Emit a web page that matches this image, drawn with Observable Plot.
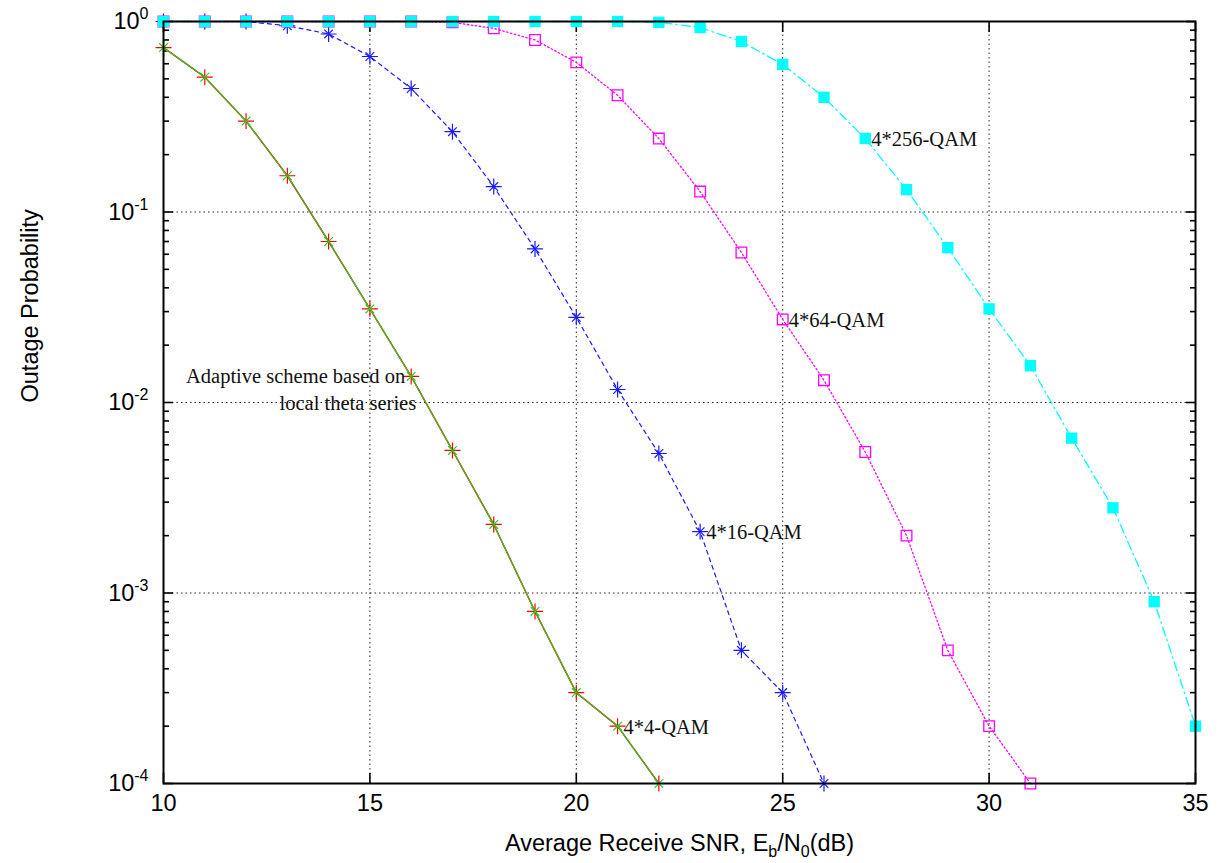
<!DOCTYPE html>
<html>
<head>
<meta charset="utf-8">
<script src="https://cdn.jsdelivr.net/npm/d3@7"></script>
<script src="https://cdn.jsdelivr.net/npm/@observablehq/plot@0.6"></script>
<style>
  html, body { margin: 0; padding: 0; background: #fff; }
  #chart svg { display: block; }
</style>
</head>
<body>
<div id="chart"></div>
<script>
// ---- data ----
const snr = [10, 11, 12, 13, 14, 15, 16, 17, 18, 19, 20, 21, 22, 23, 24, 25, 26, 27, 28, 29, 30, 31, 32, 33, 34, 35];
const qam4 = [0.73, 0.51, 0.30, 0.155, 0.07, 0.031, 0.0137, 0.0056, 0.00229, 0.0008, 0.0003, 0.0002, 0.0001];
const qam16 = [1, 1, 1, 0.95, 0.86, 0.655, 0.445, 0.264, 0.136, 0.064, 0.028, 0.0117, 0.0054, 0.0021, 0.0005, 0.0003, 0.0001];
const qam64 = [1, 1, 1, 1, 1, 1, 1, 0.99, 0.92, 0.80, 0.61, 0.41, 0.243, 0.128, 0.0613, 0.0273, 0.0131, 0.0055, 0.002, 0.0005, 0.0002, 0.0001];
const qam256 = [1, 1, 1, 1, 1, 1, 1, 1, 1, 1, 1, 1, 0.99, 0.93, 0.785, 0.595, 0.40, 0.243, 0.131, 0.065, 0.031, 0.0156, 0.0065, 0.0028, 0.0009, 0.0002];

const seriesNames = ["4*4-QAM", "4*16-QAM", "4*64-QAM", "4*256-QAM"];
const labelX = [21, 23, 25, 27];
const labelY = [0.0002, 0.0021, 0.0273, 0.243];
const noteLines = ["Adaptive scheme based on", "local theta series"];
const noteX = 16;
const noteY = 0.0137;

const xTicks = [10, 15, 20, 25, 30, 35];
const yTicks = [1e-4, 1e-3, 1e-2, 1e-1, 1];
const yMinorMult = [2, 3, 4, 5, 6, 7, 8, 9];
const yMinor = yTicks.slice(0, -1).flatMap(d => yMinorMult.map(m => m * d));

const xLabel = "Average Receive SNR, E_{b}/N_{0}(dB)";
const yLabel = "Outage Probability";

const toRows = vals => vals.map((v, i) => ({x: snr[i], y: v}));
const d4 = toRows(qam4), d16 = toRows(qam16), d64 = toRows(qam64), d256 = toRows(qam256);
const labels = seriesNames.map((t, i) => ({text: t, x: labelX[i], y: labelY[i]}));

const red = "#ff0000", green = "#22d022", blue = "#1a1aff", magenta = "#ff00ff", cyan = "#00ffff";
const serif = "'Liberation Serif', 'Times New Roman', serif";

const plot = Plot.plot({
  width: 1225,
  height: 863,
  marginLeft: 163,
  marginRight: 30,
  marginTop: 21,
  marginBottom: 80,
  style: {fontFamily: "'Liberation Sans', Arial, sans-serif", fontSize: "23.5px", background: "#fff", overflow: "visible"},
  x: {type: "linear", domain: [10, 35]},
  y: {type: "log", domain: [1e-4, 1]},
  marks: [
    Plot.gridX(xTicks, {stroke: "#000", strokeOpacity: 0.85, strokeDasharray: "1.5,3"}),
    Plot.gridY(yTicks, {stroke: "#000", strokeOpacity: 0.85, strokeDasharray: "1.5,3"}),
    // inward ticks
    Plot.axisX(xTicks, {anchor: "bottom", tickSize: -10, text: null, label: null, strokeWidth: 1.6}),
    Plot.axisX(xTicks, {anchor: "top", tickSize: -10, text: null, label: null, strokeWidth: 1.6}),
    Plot.axisY(yTicks, {anchor: "left", tickSize: -10, text: null, label: null, strokeWidth: 1.6}),
    Plot.axisY(yTicks, {anchor: "right", tickSize: -10, text: null, label: null, strokeWidth: 1.6}),
    Plot.axisY(yMinor, {anchor: "left", tickSize: -6, text: null, label: null, strokeWidth: 1.6}),
    Plot.axisY(yMinor, {anchor: "right", tickSize: -6, text: null, label: null, strokeWidth: 1.6}),
    // tick labels
    Plot.axisX(xTicks, {anchor: "bottom", tickSize: 0, tickPadding: 11, label: null, tickFormat: d => String(d)}),
    Plot.axisY(yTicks, {anchor: "left", tickSize: 0, tickPadding: 15, label: null,
      tickFormat: d => "10^{" + Math.round(Math.log10(d)) + "}"}),
    // axis titles
    Plot.text([xLabel], {text: d => d, frameAnchor: "bottom", dy: 60, lineAnchor: "middle"}),
    Plot.text([yLabel], {text: d => d, frameAnchor: "left", dx: -133, rotate: -90, lineAnchor: "middle"}),
    // 4*4-QAM (red + green overlay)
    Plot.line(d4, {x: "x", y: "y", stroke: red, strokeWidth: 1.5}),
    Plot.line(d4, {x: "x", y: "y", stroke: green, strokeWidth: 1.1}),
    Plot.dot(d4, {x: "x", y: "y", symbol: "plus", stroke: red, r: 5.2, strokeWidth: 1.2}),
    Plot.dot(d4, {x: "x", y: "y", symbol: "times", stroke: green, r: 4, strokeWidth: 1.2}),
    // 4*16-QAM
    Plot.line(d16, {x: "x", y: "y", stroke: blue, strokeWidth: 1.2, strokeDasharray: "4,4"}),
    Plot.dot(d16, {x: "x", y: "y", symbol: "plus", stroke: blue, r: 5.2, strokeWidth: 1.2}),
    Plot.dot(d16, {x: "x", y: "y", symbol: "times", stroke: blue, r: 4, strokeWidth: 1.2}),
    // 4*64-QAM
    Plot.line(d64, {x: "x", y: "y", stroke: magenta, strokeWidth: 1.3, strokeDasharray: "1.5,2.5"}),
    Plot.dot(d64, {x: "x", y: "y", symbol: "square", stroke: magenta, fill: "none", r: 6, strokeWidth: 1.3}),
    // 4*256-QAM
    Plot.line(d256, {x: "x", y: "y", stroke: cyan, strokeWidth: 1.3, strokeDasharray: "9,4,1.5,4"}),
    Plot.dot(d256, {x: "x", y: "y", symbol: "square", fill: cyan, stroke: "none", r: 6.4}),
    // frame
    Plot.frame({stroke: "#000", strokeWidth: 2}),
    // annotations
    Plot.text(labels, {x: "x", y: "y", text: "text", textAnchor: "start", dx: 6, dy: 1,
      fontFamily: serif, fontSize: 20.5, fill: "#111"}),
    Plot.text([noteLines[0]], {x: () => noteX, y: () => noteY, text: d => d, textAnchor: "end", dx: -6,
      fontFamily: serif, fontSize: 20.5, fill: "#111"}),
    Plot.text([noteLines[1]], {x: () => noteX, y: () => noteY, text: d => d, textAnchor: "end", dx: 5, dy: 27,
      fontFamily: serif, fontSize: 20.5, fill: "#111"})
  ]
});

// render ^{..} and _{..} as super/subscripts
d3.select(plot).selectAll("text").each(function () {
  const s = this.textContent;
  if (!/[\^_]\{/.test(s)) return;
  const el = d3.select(this);
  el.text(null);
  const re = /([\^_])\{([^}]*)\}|([^\^_]+)/g;
  let m, shift = 0;
  while ((m = re.exec(s))) {
    if (m[3] !== undefined) {
      el.append("tspan").attr("dy", -shift).text(m[3]);
      shift = 0;
    } else {
      const off = m[1] === "^" ? -10 : 6;
      el.append("tspan").attr("dy", off - shift).attr("font-size", 16).text(m[2]);
      shift = off;
    }
  }
});

document.getElementById("chart").appendChild(plot);
</script>
</body>
</html>
